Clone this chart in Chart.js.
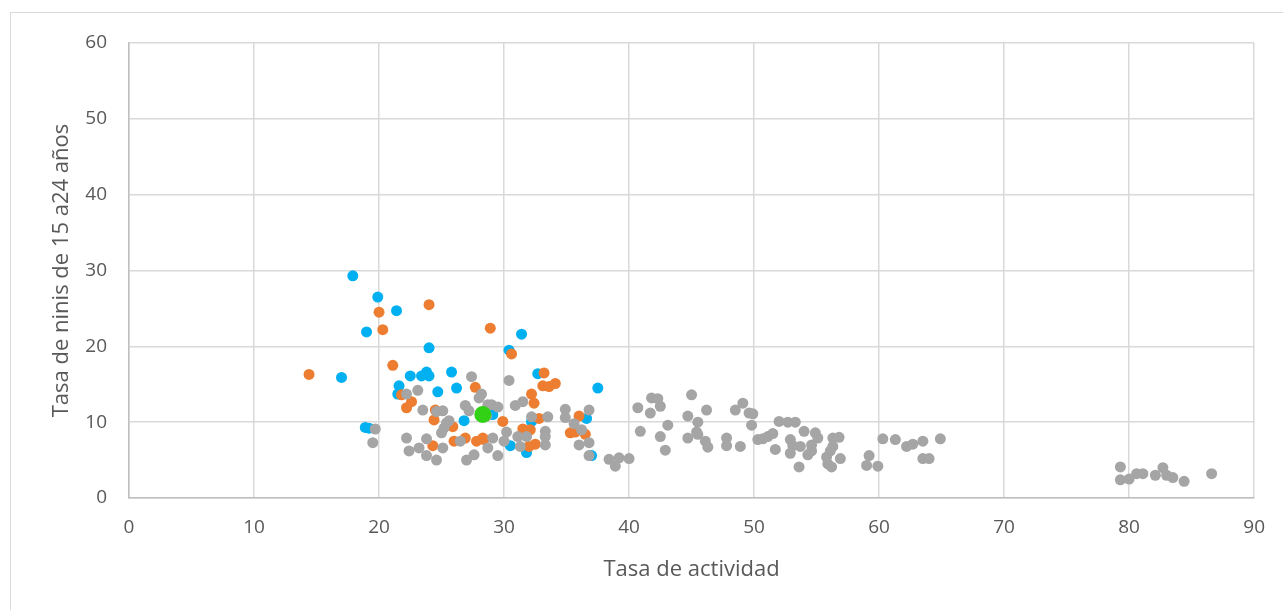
<!DOCTYPE html>
<html>
<head>
<meta charset="utf-8">
<script src="https://cdn.jsdelivr.net/npm/chart.js@4.4.1/dist/chart.umd.min.js"></script>
<style>
  html, body { margin: 0; padding: 0; background: #fff; }
  #wrap { position: relative; width: 1283px; height: 610px; overflow: hidden; }
  #frame { position: absolute; left: 10px; top: 12px; width: 1300px; height: 640px; border: 1px solid #D9D9D9; }
  canvas { position: absolute; left: 0; top: 0; }
</style>
</head>
<body>
<div id="wrap">
  <div id="frame"></div>
  <canvas id="chart" width="1283" height="610"></canvas>
</div>
<script>
// ===== Data =====
const grayX = [27.4, 22.2, 23.1, 28.2, 28.0, 23.5, 24.6, 25.1, 26.9, 27.2, 28.7, 28.6, 25.6, 19.7, 25.4, 25.2, 25.0, 19.5, 22.2, 23.8,
  25.1, 22.4, 23.2, 23.8, 24.6, 26.5, 28.7, 27.6, 27.0,
  30.4, 30.9, 31.5, 29.0, 29.5, 34.9, 34.9, 36.8, 32.2, 33.5, 35.6, 36.2, 30.2, 33.3, 33.3, 29.1, 30.0, 31.1, 31.8, 29.5, 31.3,
  33.3, 36.0, 36.8, 36.8, 38.4, 39.2, 40.0, 38.9,
  40.7, 41.8, 42.3, 42.5, 41.7, 40.9, 43.1, 42.5, 42.9, 45.0, 44.7, 45.5, 46.2, 44.7, 45.4, 45.5, 46.1, 46.3, 47.8, 47.8, 48.9,
  48.5, 49.1, 49.6, 49.9, 49.8, 50.3, 50.7, 51.1, 51.5, 52.0, 52.7, 53.3, 51.7, 54.0, 52.9, 53.1, 53.7, 52.9, 53.6, 54.9, 55.1,
  54.6, 54.6, 54.3, 56.3, 56.8, 56.3, 56.1, 55.8, 55.9, 56.2, 56.9,
  59.2, 59.0, 59.9, 60.3, 61.3, 62.2, 62.7, 63.5, 64.9, 63.5, 64.0,
  79.3, 79.3, 80.0, 80.6, 81.1, 82.1, 82.7, 83.0, 83.5, 84.4, 86.6];
const grayY = [16.0, 13.7, 14.2, 13.7, 13.2, 11.6, 11.4, 11.5, 12.2, 11.5, 12.3, 10.8, 10.2, 9.1, 9.9, 9.2, 8.6, 7.3, 7.9, 7.8,
  6.6, 6.2, 6.6, 5.6, 5.0, 7.5, 6.6, 5.7, 5.0,
  15.5, 12.2, 12.7, 12.3, 12.0, 11.7, 10.6, 11.6, 10.7, 10.7, 9.8, 9.0, 8.7, 8.8, 8.1, 7.9, 7.5, 8.1, 8.1, 5.6, 6.8,
  7.0, 7.0, 7.3, 5.6, 5.1, 5.3, 5.2, 4.2,
  11.9, 13.2, 13.1, 12.1, 11.2, 8.8, 9.6, 8.1, 6.3, 13.6, 10.8, 10.0, 11.6, 7.9, 8.7, 8.4, 7.5, 6.7, 7.9, 6.9, 6.8,
  11.6, 12.5, 11.2, 11.1, 9.6, 7.7, 7.8, 8.1, 8.5, 10.1, 10.0, 10.0, 6.4, 8.8, 7.7, 6.9, 6.8, 5.9, 4.1, 8.6, 7.9,
  7.0, 6.2, 5.7, 7.9, 8.0, 6.8, 6.2, 5.4, 4.5, 4.1, 5.2,
  5.6, 4.3, 4.2, 7.8, 7.7, 6.8, 7.1, 7.5, 7.8, 5.2, 5.2,
  4.1, 2.4, 2.5, 3.2, 3.2, 3.0, 4.0, 3.0, 2.7, 2.2, 3.2];

const blueX = [17.9, 19.9, 21.4, 19.0, 24.0, 17.0, 22.5, 23.4, 23.8, 24.0, 25.8, 21.6, 21.5, 24.7, 26.2, 26.8, 18.9, 19.2,
  31.4, 30.4, 32.7, 37.5, 29.1, 32.2, 36.6, 30.5, 31.8, 37.0];
const blueY = [29.3, 26.5, 24.7, 21.9, 19.8, 15.9, 16.1, 16.1, 16.6, 16.1, 16.6, 14.8, 13.7, 14.0, 14.5, 10.2, 9.3, 9.2,
  21.6, 19.5, 16.4, 14.5, 11.0, 10.1, 10.5, 6.9, 6.0, 5.6];

const orangeX = [20.0, 24.0, 20.3, 28.9, 14.4, 21.1, 27.7, 21.8, 22.6, 22.2, 24.5, 24.4, 25.9, 24.3, 26.0, 26.9, 27.8, 28.4,
  30.6, 33.2, 33.1, 33.6, 34.1, 32.2, 32.4, 32.8, 29.9, 36.0, 35.3, 35.7, 36.5, 31.5, 32.1, 28.3, 32.0, 32.5];
const orangeY = [24.5, 25.5, 22.2, 22.4, 16.3, 17.5, 14.6, 13.6, 12.7, 11.9, 11.6, 10.3, 9.4, 6.9, 7.5, 7.9, 7.5, 7.7,
  19.0, 16.5, 14.8, 14.7, 15.1, 13.7, 12.5, 10.5, 10.1, 10.8, 8.6, 8.7, 8.4, 9.1, 9.0, 7.9, 6.8, 7.1];

const greenX = [28.3];
const greenY = [11.0];

const xTitle = "Tasa de actividad";
const yTitle = "Tasa de ninis de 15 a24 años";

// ===== Utils =====
function pts(xs, ys) {
  return xs.map((x, i) => ({ x: x, y: ys[i] }));
}

const tickFont = { family: "'Open Sans', sans-serif", size: 19 };
const titleFont = { family: "'Open Sans', sans-serif", size: 22 };

// ===== Chart =====
const ctx = document.getElementById("chart").getContext("2d");

new Chart(ctx, {
  type: "scatter",
  data: {
    datasets: [
      { data: pts(greenX, greenY), backgroundColor: "#33D116", pointRadius: 8.5, borderWidth: 0 },
      { data: pts(grayX, grayY), backgroundColor: "#A5A5A5", pointRadius: 5.5, borderWidth: 0 },
      { data: pts(orangeX, orangeY), backgroundColor: "#ED7D31", pointRadius: 5.5, borderWidth: 0 },
      { data: pts(blueX, blueY), backgroundColor: "#00B0F0", pointRadius: 5.5, borderWidth: 0 }
    ]
  },
  options: {
    responsive: false,
    animation: false,
    layout: { padding: { left: 0, top: 43, right: 28, bottom: 0 } },
    plugins: {
      legend: { display: false },
      tooltip: { enabled: false }
    },
    scales: {
      x: {
        type: "linear",
        min: 0,
        max: 90,
        ticks: { stepSize: 10, color: "#595959", font: tickFont, padding: 18 },
        grid: { color: "#D9D9D9", lineWidth: 1.5, drawTicks: false },
        border: { color: "#BFBFBF", width: 1.5 },
        title: { display: true, text: xTitle, color: "#595959", font: titleFont, padding: { top: 0, bottom: 27 } },
        afterFit: s => { s.height = 112; }
      },
      y: {
        type: "linear",
        min: 0,
        max: 60,
        ticks: { stepSize: 10, color: "#595959", font: tickFont, padding: 22 },
        grid: { color: "#D9D9D9", lineWidth: 1.5, drawTicks: false },
        border: { color: "#BFBFBF", width: 1.5 },
        title: { display: true, text: yTitle, color: "#595959", font: titleFont, padding: { top: 49, bottom: 0 } },
        afterFit: s => { s.width = 129; }
      }
    }
  }
});
</script>
</body>
</html>
